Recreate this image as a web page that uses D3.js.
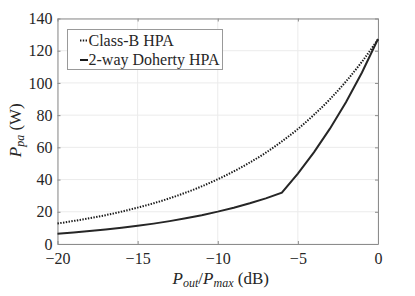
<!DOCTYPE html>
<html>
<head>
<meta charset="utf-8">
<script src="https://cdn.jsdelivr.net/npm/d3@7"></script>
<style>
  body { margin: 0; background: #fff; }
</style>
</head>
<body>
<svg id="chart" width="415" height="296"></svg>
<script>
// output back-off in dB
const xVals = [-20, -19, -18, -17, -16, -15, -14, -13, -12, -11, -10,
               -9, -8, -7, -6, -5, -4, -3, -2, -1, 0];

// Class-B HPA dc power (W)
const classB = [12.7, 14.3, 16.0, 17.9, 20.1, 22.6, 25.3, 28.4, 31.9, 35.8, 40.2,
                45.1, 50.6, 56.7, 63.7, 71.4, 80.2, 89.9, 100.9, 113.2, 127.0];

// 2-way Doherty HPA dc power (W)
const doherty = [6.35, 7.15, 8.0, 8.95, 10.05, 11.3, 12.65, 14.2, 15.95, 17.9, 20.1,
                 22.55, 25.3, 28.35, 31.85, 43.7, 56.9, 71.6, 88.0, 106.5, 127.3];

const xTicks = [-20, -15, -10, -5, 0];
const yTicks = [0, 20, 40, 60, 80, 100, 120, 140];

const legendNames = ["Class-B HPA", "2-way Doherty HPA"];

const FONT = 'Liberation Serif';
const margin = { left: 57.5, right: 37, top: 18.5, bottom: 52 };
const width = 415, height = 296;

const svg = d3.select('#chart')
  .attr('font-family', FONT);

const x = d3.scaleLinear().domain([-20, 0]).range([margin.left, width - margin.right]);
const y = d3.scaleLinear().domain([0, 140]).range([height - margin.bottom, margin.top]);

// grid
const grid = svg.append('g').attr('class', 'grid');
grid.selectAll('.gx').data(xTicks).enter().append('line')
  .attr('x1', d => x(d)).attr('x2', d => x(d))
  .attr('y1', y(0)).attr('y2', y(140))
  .attr('stroke', '#ebebeb').attr('stroke-width', 1);
grid.selectAll('.gy').data(yTicks).enter().append('line')
  .attr('x1', x(-20)).attr('x2', x(0))
  .attr('y1', d => y(d)).attr('y2', d => y(d))
  .attr('stroke', '#ebebeb').attr('stroke-width', 1);

// axes, ticks pointing inward
const axisColor = '#8c8c8c';
const xAxis = svg.append('g')
  .attr('transform', `translate(0,${y(0)})`)
  .call(d3.axisBottom(x).tickValues(xTicks).tickSizeInner(-3).tickSizeOuter(0).tickPadding(9));
const yAxis = svg.append('g')
  .attr('transform', `translate(${x(-20)},0)`)
  .call(d3.axisLeft(y).tickValues(yTicks).tickSizeInner(-3).tickSizeOuter(0).tickPadding(5));
const xTop = svg.append('g')
  .attr('transform', `translate(0,${y(140)})`)
  .call(d3.axisTop(x).tickValues(xTicks).tickSizeInner(-3).tickSizeOuter(0).tickFormat(''));
const yRight = svg.append('g')
  .attr('transform', `translate(${x(0)},0)`)
  .call(d3.axisRight(y).tickValues(yTicks).tickSizeInner(-3).tickSizeOuter(0).tickFormat(''));

[xAxis, yAxis, xTop, yRight].forEach(a => {
  a.attr('font-family', FONT).attr('font-size', 16);
  a.selectAll('path').attr('stroke', axisColor);
  a.selectAll('line').attr('stroke', axisColor);
  a.selectAll('text').attr('fill', '#262626');
});
xAxis.selectAll('text').attr('dy', '0.71em');

// lines
const line = d3.line()
  .x((d, i) => x(xVals[i]))
  .y(d => y(d));

svg.append('path')
  .datum(classB)
  .attr('fill', 'none')
  .attr('stroke', '#1a1a1a')
  .attr('stroke-width', 2)
  .attr('stroke-dasharray', '1.4,1.4')
  .attr('d', line.curve(d3.curveMonotoneX));

svg.append('path')
  .datum(doherty)
  .attr('fill', 'none')
  .attr('stroke', '#262626')
  .attr('stroke-width', 2)
  .attr('d', line.curve(d3.curveLinear));

// legend
const lg = svg.append('g').attr('transform', 'translate(67.5,29.5)');
lg.append('rect')
  .attr('width', 155).attr('height', 40)
  .attr('fill', '#fff').attr('stroke', '#999').attr('stroke-width', 1);
legendNames.forEach((name, i) => {
  const yy = 11 + i * 19.5;
  lg.append('line')
    .attr('x1', 12.5).attr('x2', 20.5).attr('y1', yy).attr('y2', yy)
    .attr('stroke', '#1a1a1a').attr('stroke-width', 2)
    .attr('stroke-dasharray', i === 0 ? '1.4,1.4' : null);
  lg.append('text')
    .attr('x', 21).attr('y', yy + 5)
    .attr('font-family', FONT)
    .attr('font-size', 16)
    .attr('fill', '#262626')
    .text(name);
});

// axis labels
const xl = svg.append('text')
  .attr('x', x(-10) + 3).attr('y', 284)
  .attr('text-anchor', 'middle')
  .attr('font-family', FONT)
  .attr('font-size', 17)
  .attr('fill', '#262626');
xl.append('tspan').attr('font-style', 'italic').text('P');
xl.append('tspan').attr('font-style', 'italic').attr('font-size', 12).attr('dy', 3).text('out');
xl.append('tspan').attr('dy', -3).text('/');
xl.append('tspan').attr('font-style', 'italic').text('P');
xl.append('tspan').attr('font-style', 'italic').attr('font-size', 12).attr('dy', 3).text('max');
xl.append('tspan').attr('dy', -3).text(' (dB)');

const yl = svg.append('text')
  .attr('transform', `translate(21,${y(70) - 1}) rotate(-90)`)
  .attr('text-anchor', 'middle')
  .attr('font-family', FONT)
  .attr('font-size', 17)
  .attr('fill', '#262626');
yl.append('tspan').attr('font-style', 'italic').text('P');
yl.append('tspan').attr('font-style', 'italic').attr('font-size', 12).attr('dy', 3).text('pa');
yl.append('tspan').attr('dy', -3).text(' (W)');
</script>
</body>
</html>
